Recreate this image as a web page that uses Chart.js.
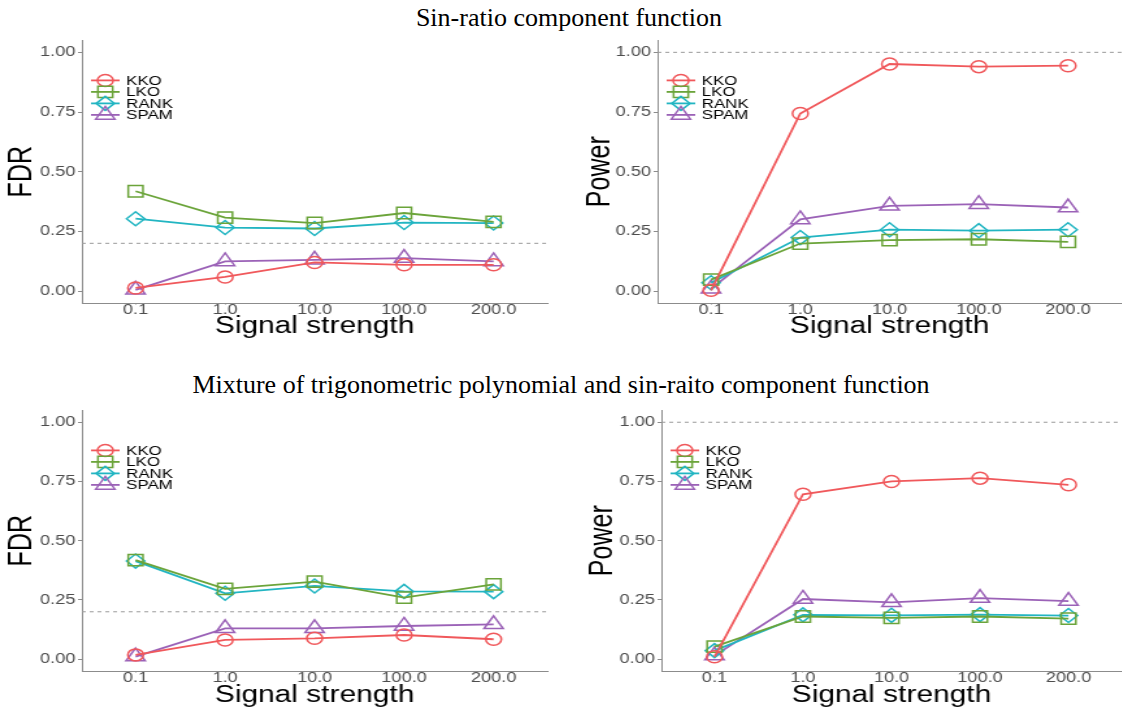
<!DOCTYPE html>
<html lang="en">
<head>
    <meta charset="UTF-8">
    <title>KKO simulation: FDR and power</title>
    <script src="https://cdn.jsdelivr.net/npm/chart.js"></script>
    <style>
        body {
            margin: 0;
            width: 1122px;
            height: 708px;
            overflow: hidden;
            background: #fff;
            position: relative;
        }
        .title {
            position: absolute;
            left: 0;
            width: 1122px;
            text-align: center;
            font-family: 'Liberation Serif', 'Times New Roman', serif;
            font-size: 26px;
            color: #000;
            white-space: nowrap;
        }
        /* the source figure is stretched sideways, so each panel is too */
        .panel {
            position: absolute;
            transform: scaleX(1.3);
            transform-origin: 0 0;
        }
    </style>
</head>
<body>
    <div class="title" style="top: 3px; padding-left: 8px;">Sin-ratio component function</div>
    <div class="title" style="top: 370px;">Mixture of trigonometric polynomial and sin-raito component function</div>

    <div class="panel" style="left: 0px; top: 30px;"><canvas id="sinFdr" width="431" height="320"></canvas></div>
    <div class="panel" style="left: 560px; top: 30px;"><canvas id="sinPow" width="442" height="320"></canvas></div>
    <div class="panel" style="left: 0px; top: 400px;"><canvas id="mixFdr" width="431" height="308"></canvas></div>
    <div class="panel" style="left: 560px; top: 400px;"><canvas id="mixPow" width="442" height="308"></canvas></div>

    <script>
        // x categories and y ticks
        var strengths = ['0.1', '1.0', '10.0', '100.0', '200.0'];
        var yTicks = [0, 0.25, 0.5, 0.75, 1];
        var methods = ['KKO', 'LKO', 'RANK', 'SPAM'];

        // Sin-ratio component function
        var sinFdrKKO  = [0.013, 0.059, 0.120, 0.110, 0.110];
        var sinFdrLKO  = [0.418, 0.308, 0.285, 0.327, 0.290];
        var sinFdrRANK = [0.303, 0.266, 0.262, 0.287, 0.285];
        var sinFdrSPAM = [0.005, 0.124, 0.131, 0.138, 0.124];

        var sinPowKKO  = [0.003, 0.744, 0.951, 0.940, 0.944];
        var sinPowLKO  = [0.048, 0.199, 0.213, 0.217, 0.206];
        var sinPowRANK = [0.035, 0.224, 0.257, 0.253, 0.257];
        var sinPowSPAM = [0.010, 0.300, 0.357, 0.364, 0.350];

        // Mixture of trigonometric polynomial and sin-ratio
        var mixFdrKKO  = [0.018, 0.081, 0.088, 0.102, 0.084];
        var mixFdrLKO  = [0.418, 0.297, 0.327, 0.260, 0.316];
        var mixFdrRANK = [0.414, 0.278, 0.309, 0.286, 0.285];
        var mixFdrSPAM = [0.011, 0.130, 0.130, 0.140, 0.147];

        var mixPowKKO  = [0.010, 0.696, 0.750, 0.764, 0.736];
        var mixPowLKO  = [0.053, 0.180, 0.174, 0.180, 0.171];
        var mixPowRANK = [0.036, 0.187, 0.185, 0.188, 0.184];
        var mixPowSPAM = [0.015, 0.254, 0.240, 0.258, 0.245];

        // nominal FDR level and max power (dashed lines)
        var fdrLevel = 0.2;
        var powerMax = 1.0;

        // styling per method
        var colors = ['#F0585B', '#6BA43A', '#22B5C2', '#9B62B7'];
        var shapes = ['circle', 'rect', 'rectRot', 'triangle'];
        var radii = [6, 8, 7, 8.5];
        var axisColor = '#8c8c8c';

        Chart.defaults.font.family = "'Liberation Sans', Arial, sans-serif";

        // dashed horizontal reference line
        var refLinePlugin = {
            id: 'refLine',
            beforeDatasetsDraw: function(chart, args, opts) {
                var area = chart.chartArea;
                var y = chart.scales.y.getPixelForValue(opts.value);
                var ctx = chart.ctx;
                ctx.save();
                ctx.strokeStyle = '#9a9a9a';
                ctx.lineWidth = 1;
                ctx.setLineDash([3, 3]);
                ctx.beginPath();
                ctx.moveTo(area.left, y);
                ctx.lineTo(area.right, y);
                ctx.stroke();
                ctx.restore();
            }
        };

        // ggplot-style legend drawn inside the plot, top left
        var insideLegendPlugin = {
            id: 'insideLegend',
            afterDraw: function(chart) {
                var area = chart.chartArea;
                var ctx = chart.ctx;
                ctx.save();
                chart.data.datasets.forEach(function(ds, i) {
                    var cx = area.left + 18;
                    var cy = area.top + 40 + i * 11.5;
                    ctx.strokeStyle = ds.borderColor;
                    ctx.lineWidth = 1.8;
                    ctx.beginPath();
                    ctx.moveTo(cx - 11, cy);
                    ctx.lineTo(cx + 11, cy);
                    ctx.stroke();
                    ctx.fillStyle = 'rgba(0,0,0,0)';
                    ctx.lineWidth = 1.5;
                    Chart.helpers.drawPoint(ctx, {
                        pointStyle: ds.pointStyle,
                        radius: ds.pointRadius,
                        borderWidth: 1.5,
                        rotation: 0
                    }, cx, cy);
                    ctx.fillStyle = '#000';
                    ctx.font = "13px 'Liberation Sans', Arial, sans-serif";
                    ctx.textBaseline = 'middle';
                    ctx.textAlign = 'left';
                    ctx.fillText(ds.label, area.left + 34, cy + 1);
                });
                ctx.restore();
            }
        };

        function makePanel(id, yTitle, series, refValue, geo) {
            var datasets = methods.map(function(name, i) {
                return {
                    label: name,
                    data: series[i].map(function(v, j) { return { x: j + 1, y: v }; }),
                    borderColor: colors[i],
                    backgroundColor: 'rgba(0,0,0,0)',
                    pointBackgroundColor: 'rgba(0,0,0,0)',
                    pointBorderColor: colors[i],
                    pointStyle: shapes[i],
                    pointRadius: radii[i],
                    pointBorderWidth: 1.5,
                    borderWidth: 1.8,
                    tension: 0,
                    clip: false
                };
            });

            new Chart(document.getElementById(id), {
                type: 'line',
                data: { datasets: datasets },
                options: {
                    responsive: false,
                    animation: false,
                    layout: { padding: { left: 0, top: 10, right: geo.padRight, bottom: 0 } },
                    plugins: {
                        legend: { display: false },
                        tooltip: { enabled: false },
                        refLine: { value: refValue }
                    },
                    scales: {
                        x: {
                            type: 'linear',
                            min: 0.4,
                            max: 5.6,
                            afterBuildTicks: function(scale) {
                                scale.ticks = strengths.map(function(s, i) { return { value: i + 1 }; });
                            },
                            afterFit: function(scale) { scale.height = geo.xHeight; },
                            ticks: {
                                callback: function(v) { return strengths[Math.round(v) - 1]; },
                                font: { size: 14 },
                                color: '#4d4d4d',
                                padding: -3,
                                maxRotation: 0,
                                autoSkip: false
                            },
                            grid: { drawOnChartArea: false, tickLength: 2, color: '#c8c8c8' },
                            border: { color: axisColor, width: 1 },
                            title: {
                                display: true,
                                text: 'Signal strength',
                                color: '#000',
                                font: { size: 23 },
                                padding: { top: 0, bottom: geo.xTitlePad }
                            }
                        },
                        y: {
                            min: -0.05,
                            max: 1.05,
                            afterBuildTicks: function(scale) {
                                scale.ticks = yTicks.map(function(v) { return { value: v }; });
                            },
                            afterFit: function(scale) { scale.width = geo.yWidth; },
                            ticks: {
                                callback: function(v) { return v.toFixed(2); },
                                font: { size: 14 },
                                color: '#4d4d4d',
                                padding: 2
                            },
                            grid: { drawOnChartArea: false, tickLength: 3, color: axisColor },
                            border: { color: axisColor, width: 1 },
                            title: {
                                display: true,
                                text: yTitle,
                                color: '#000',
                                font: { family: "'Liberation Sans Narrow', 'Liberation Sans', sans-serif", size: 25 },
                                padding: { top: geo.yTitlePad, bottom: 0 }
                            }
                        }
                    }
                },
                plugins: [refLinePlugin, insideLegendPlugin]
            });
        }

        makePanel('sinFdr', 'FDR', [sinFdrKKO, sinFdrLKO, sinFdrRANK, sinFdrSPAM], fdrLevel,
            { yWidth: 63, padRight: 8, xHeight: 47, xTitlePad: 10, yTitlePad: 2 });
        makePanel('sinPow', 'Power', [sinPowKKO, sinPowLKO, sinPowRANK, sinPowSPAM], powerMax,
            { yWidth: 75, padRight: 6, xHeight: 47, xTitlePad: 10, yTitlePad: 16 });
        makePanel('mixFdr', 'FDR', [mixFdrKKO, mixFdrLKO, mixFdrRANK, mixFdrSPAM], fdrLevel,
            { yWidth: 63, padRight: 8, xHeight: 37, xTitlePad: -1, yTitlePad: 2 });
        makePanel('mixPow', 'Power', [mixPowKKO, mixPowLKO, mixPowRANK, mixPowSPAM], powerMax,
            { yWidth: 78, padRight: 3, xHeight: 37, xTitlePad: -1, yTitlePad: 18 });
    </script>
</body>
</html>
